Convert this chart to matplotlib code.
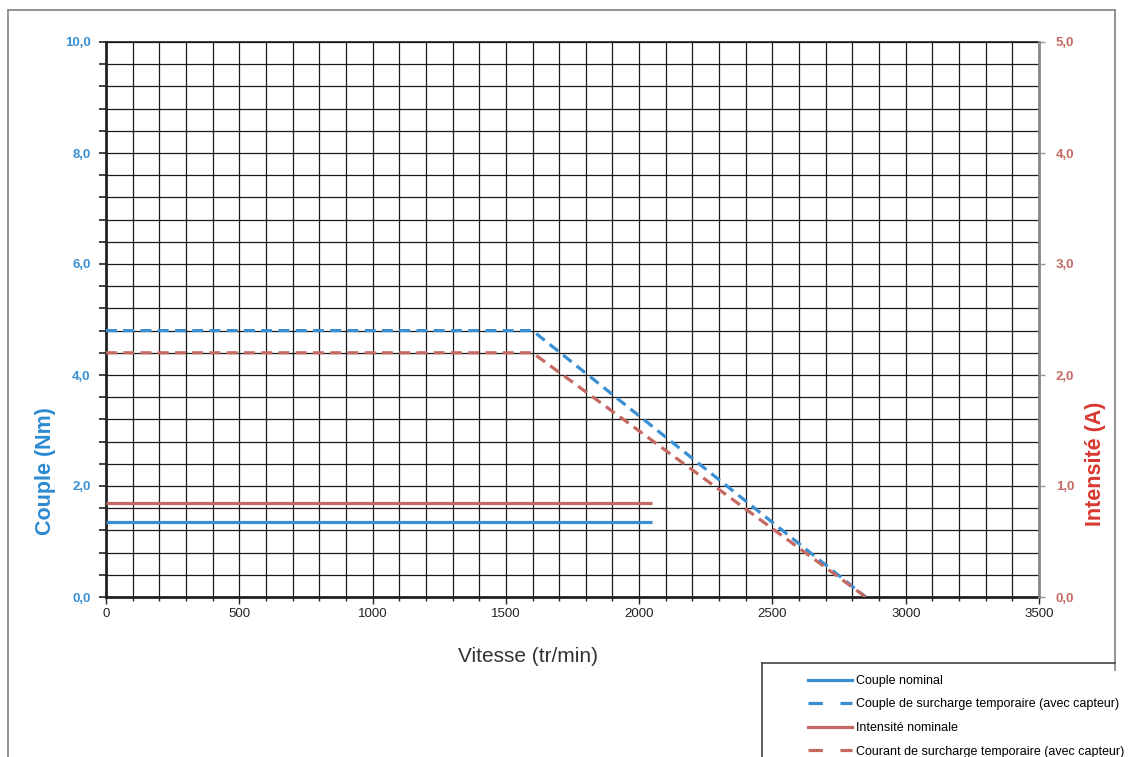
import matplotlib
matplotlib.use("Agg")
import matplotlib.pyplot as plt
from matplotlib.lines import Line2D
from matplotlib.ticker import MultipleLocator, FuncFormatter

plt.rcParams['font.family'] = ['Liberation Sans', 'DejaVu Sans']

# Courbes couple / intensité en fonction de la vitesse
vitesse_nominal = [0, 2050]
couple_nominal = [1.35, 1.35]          # Nm
intensite_nominal = [0.85, 0.85]       # A

vitesse_surcharge = [0, 1600, 2850]
couple_surcharge = [4.8, 4.8, 0.0]     # Nm
courant_surcharge = [2.2, 2.2, 0.0]    # A

x_ticks = [0, 500, 1000, 1500, 2000, 2500, 3000, 3500]
labels = ["Couple nominal",
          "Couple de surcharge temporaire (avec capteur)",
          "Intensité nominale",
          "Courant de surcharge temporaire (avec capteur)"]

BLUE = "#3a8fd2"
RED = "#c46a62"
RED_LABEL = "#d8372f"

W, H = 1143, 757
fig = plt.figure(figsize=(W / 100, H / 100), dpi=100)
ax = fig.add_axes([106 / W, 1 - 597 / H, (1039 - 106) / W, (597 - 42) / H])
ax2 = ax.twinx()

ax.set_xlim(0, 3500)
ax.set_ylim(0, 10)
ax2.set_ylim(0, 5)

# grid
ax.xaxis.set_major_locator(MultipleLocator(500))
ax.xaxis.set_minor_locator(MultipleLocator(100))
ax.yaxis.set_major_locator(MultipleLocator(2))
ax.yaxis.set_minor_locator(MultipleLocator(0.4))
ax.grid(True, which='both', color='#1a1a1a', linewidth=0.9)
ax.set_axisbelow(True)

comma = FuncFormatter(lambda v, p: f"{v:.1f}".replace('.', ','))
ax.yaxis.set_major_formatter(comma)
ax2.yaxis.set_major_locator(MultipleLocator(1))
ax2.yaxis.set_major_formatter(comma)

ax.set_xticks(x_ticks)
ax.tick_params(axis='x', which='major', length=5, width=1, color='#222',
               labelsize=9.5, labelcolor='#222', pad=3)
ax.tick_params(axis='x', which='minor', length=3, width=1, color='#222')
ax.tick_params(axis='y', which='both', length=5, width=1.2, color='#222',
               labelsize=9.5, labelcolor=BLUE, pad=6)
for t in ax.get_yticklabels():
    t.set_fontweight('bold')
ax2.tick_params(axis='y', which='major', length=4, width=1, color='#999',
                labelsize=9.5, labelcolor=RED, pad=8)
for t in ax2.get_yticklabels():
    t.set_fontweight('bold')

for a in (ax, ax2):
    a.spines['top'].set_visible(False)
ax.spines['left'].set_linewidth(2)
ax.spines['left'].set_color('#222')
ax.spines['bottom'].set_linewidth(2)
ax.spines['bottom'].set_color('#222')
ax2.spines['right'].set_linewidth(2)
ax2.spines['right'].set_color('#888')
ax2.spines['left'].set_visible(False)
ax2.spines['bottom'].set_visible(False)
ax.spines['right'].set_visible(False)
ax.plot([0, 3500], [10, 10], color='#1a1a1a', lw=1.2, clip_on=False, zorder=1)

# series
ax.plot(vitesse_nominal, couple_nominal, color=BLUE, lw=2.3, solid_capstyle='butt', zorder=3)
ax2.plot(vitesse_nominal, intensite_nominal, color=RED, lw=2.3, solid_capstyle='butt', zorder=3)
ax.plot(vitesse_surcharge, couple_surcharge, color=BLUE, lw=2.3,
        dashes=(3.4, 2.0), zorder=3)
ax2.plot(vitesse_surcharge, courant_surcharge, color=RED, lw=2.3,
         dashes=(3.4, 2.0), zorder=3)

# axis titles
fig.text(45 / W, 1 - 471 / H, "Couple (Nm)", rotation=90, ha='center', va='center',
         color="#2d8ad0", fontsize=15.5, fontweight='bold')
fig.text(1096 / W, 1 - 464 / H, "Intensité (A)", rotation=90, ha='center', va='center',
         color=RED_LABEL, fontsize=15.5, fontweight='bold')
fig.text(528 / W, 1 - 657 / H, "Vitesse (tr/min)", ha='center', va='center',
         fontsize=15, color='#333')

# outer frame
frame = dict(color='#8a8a8a', lw=1.3, transform=fig.transFigure)
fig.add_artist(Line2D([8 / W, 8 / W], [1 - 10 / H, 0], **frame))
fig.add_artist(Line2D([8 / W, 1115 / W], [1 - 10 / H, 1 - 10 / H], **frame))
fig.add_artist(Line2D([1115 / W, 1115 / W], [1 - 10 / H, 1 - 670 / H], **frame))

# legend box
box = dict(color='#444', lw=1.2, transform=fig.transFigure)
fig.add_artist(Line2D([762 / W, 1115 / W], [1 - 663 / H, 1 - 663 / H], **box))
fig.add_artist(Line2D([762 / W, 762 / W], [1 - 663 / H, 0], **box))

handles = [
    Line2D([], [], color=BLUE, lw=2.3),
    Line2D([], [], color=BLUE, lw=2.3, dashes=(4.5, 5.5)),
    Line2D([], [], color=RED, lw=2.3),
    Line2D([], [], color=RED, lw=2.3, dashes=(4.5, 5.5)),
]
fig.legend(handles, labels, loc='upper left', bbox_to_anchor=(808 / W, 1 - 675 / H),
           frameon=False, fontsize=9, handlelength=3.5, handletextpad=0.35,
           labelspacing=0.92, borderpad=0, borderaxespad=0)

fig.savefig("out.png", dpi=100)
